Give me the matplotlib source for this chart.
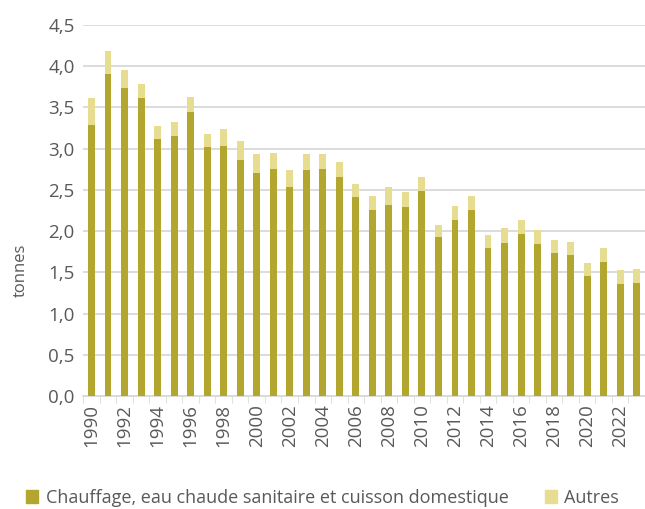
import numpy as np
import matplotlib.pyplot as plt
from matplotlib.patches import Patch
from matplotlib.ticker import FuncFormatter, MultipleLocator

plt.rcParams['font.family'] = ['Open Sans', 'DejaVu Sans']

# data (tonnes)
years = list(range(1990, 2024))
chauffage = [3.29, 3.90, 3.74, 3.61, 3.12, 3.15, 3.45, 3.02, 3.03, 2.86,
             2.70, 2.75, 2.54, 2.74, 2.75, 2.65, 2.41, 2.25, 2.32, 2.29,
             2.49, 1.93, 2.14, 2.25, 1.79, 1.86, 1.96, 1.84, 1.73, 1.71,
             1.46, 1.62, 1.36, 1.37]
totals = [3.62, 4.18, 3.95, 3.78, 3.28, 3.32, 3.63, 3.18, 3.24, 3.09,
          2.93, 2.95, 2.74, 2.93, 2.94, 2.84, 2.57, 2.43, 2.54, 2.48,
          2.65, 2.07, 2.30, 2.43, 1.95, 2.04, 2.13, 2.01, 1.89, 1.87,
          1.61, 1.79, 1.53, 1.54]
autres = [t - c for t, c in zip(totals, chauffage)]

dark = '#B3A62E'
light = '#E6DD91'
grey = '#595959'

fig = plt.figure(figsize=(6.45, 5.09), dpi=100)
ax = fig.add_axes([0.129, 0.222, 0.871, 0.729])

x = np.arange(len(years))
ax.bar(x, chauffage, width=0.42, color=dark, zorder=3)
ax.bar(x, autres, width=0.42, bottom=chauffage, color=light, zorder=3)

ax.set_xlim(-0.5, len(years) - 0.5)
ax.set_ylim(0, 4.5)
ax.yaxis.set_major_locator(MultipleLocator(0.5))
ax.yaxis.set_major_formatter(FuncFormatter(lambda v, p: f'{v:.1f}'.replace('.', ',')))
ax.grid(axis='y', color='#D9D9D9', linewidth=1.3, zorder=0)

ax.set_xticks(x[::2])
ax.set_xticklabels([str(y) for y in years[::2]], rotation=90)
ax.set_xticks(np.arange(-0.5, len(years), 1), minor=True)
ax.tick_params(axis='x', which='major', length=0, pad=6, labelsize=13.5, labelcolor=grey)
ax.tick_params(axis='x', which='minor', length=5, color='#D9D9D9')
ax.tick_params(axis='y', length=0, labelsize=13.5, labelcolor=grey, pad=6)

for s in ['top', 'right', 'left']:
    ax.spines[s].set_visible(False)
ax.spines['bottom'].set_color('#D9D9D9')
ax.spines['bottom'].set_linewidth(1.3)

ax.set_ylabel('tonnes', fontsize=12, color=grey)
ax.yaxis.set_label_coords(-0.097, 0.34)

handles = [Patch(color=dark, label='Chauffage, eau chaude sanitaire et cuisson domestique'),
           Patch(color=light, label='Autres')]
fig.legend(handles=handles, loc='center', bbox_to_anchor=(0.5, 0.022), ncol=2,
           frameon=False, fontsize=13, labelcolor=grey, handlelength=0.7,
           handleheight=0.7, handletextpad=0.4, columnspacing=2.0,
           borderpad=0.2)

fig.savefig('out.png', dpi=100)
